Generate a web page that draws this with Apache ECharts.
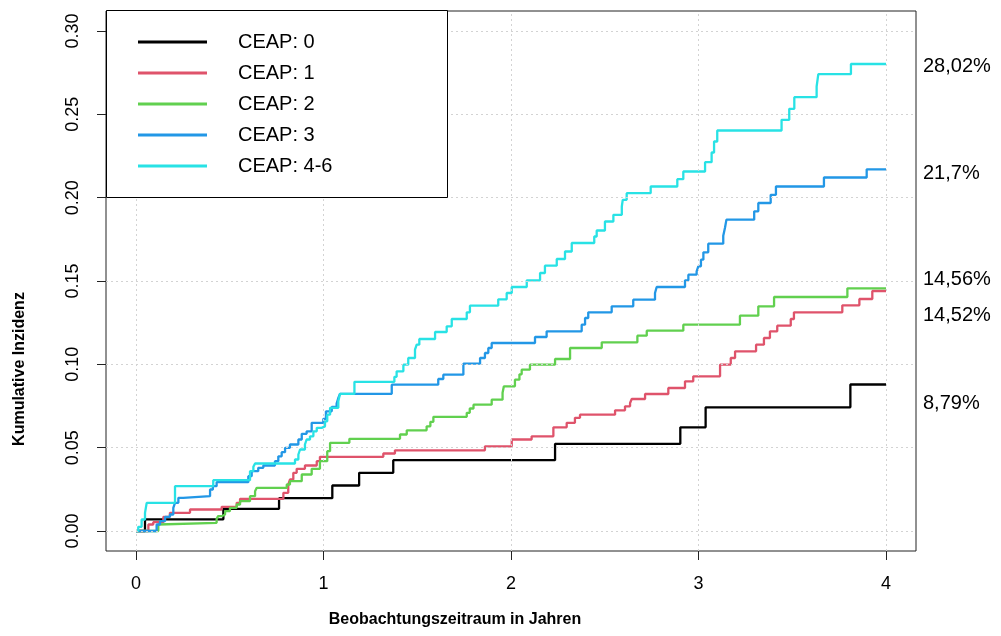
<!DOCTYPE html>
<html>
<head>
<meta charset="utf-8">
<script src="https://cdn.jsdelivr.net/npm/echarts@6/dist/echarts.min.js"></script>
<style>html,body{margin:0;padding:0;background:#fff}#c{width:1001px;height:636px}</style>
</head>
<body>
<div id="c"></div>
<script>
// ---- data (years, cumulative incidence) ----
const xTicks = [0, 1, 2, 3, 4];
const yTicks = [0, 0.05, 0.10, 0.15, 0.20, 0.25, 0.30];
const seriesNames = ['CEAP: 0', 'CEAP: 1', 'CEAP: 2', 'CEAP: 3', 'CEAP: 4-6'];
const seriesColors = ['#000000', '#DF536B', '#61D04F', '#2297E6', '#28E2E5'];
const endLabels = ['8,79%', '14,52%', '14,56%', '21,7%', '28,02%'];

const ceap0 = [[0,0],[0.048,0.0070],[0.466,0.0133],[0.763,0.0197],[1.047,0.0273],[1.19,0.0349],[1.372,0.0425],
  [2.235,0.0523],[2.903,0.0622],[3.038,0.0742],[3.81,0.0879],[4.0,0.0879]];

const ceap1 = [[0,0],[0.066,0.0039],[0.092,0.0053],[0.146,0.0085],[0.181,0.0109],[0.288,0.0129],[0.457,0.0145],
  [0.537,0.0169],[0.555,0.0193],[0.786,0.0229],[0.812,0.0279],[0.821,0.0309],[0.839,0.0349],[0.857,0.0373],
  [0.901,0.0393],[0.964,0.0419],[0.981,0.0445],[1.319,0.0465],[1.381,0.0484],[1.861,0.0508],[2.004,0.0549],
  [2.110,0.0568],[2.226,0.0622],[2.297,0.0649],[2.341,0.0679],[2.368,0.0698],[2.555,0.0724],[2.608,0.0748],
  [2.635,0.0768],[2.644,0.0792],[2.715,0.0822],[2.839,0.0858],[2.928,0.0898],[2.972,0.0928],[3.115,0.0998],
  [3.172,0.1038],[3.195,0.1078],[3.307,0.1118],[3.349,0.1158],[3.381,0.1198],[3.42,0.1232],[3.492,0.1272],
  [3.509,0.1312],[3.767,0.1354],[3.858,0.1392],[3.927,0.1440],[4.0,0.1440]];

const ceap2 = [[0,0],[0.119,0.0039],[0.128,0.0049],[0.43,0.0073],[0.438,0.0089],[0.457,0.0099],[0.475,0.0119],
  [0.501,0.0139],[0.537,0.0159],[0.555,0.0179],[0.608,0.0209],[0.635,0.0239],[0.644,0.0259],[0.804,0.0279],
  [0.821,0.0299],[0.884,0.0339],[0.937,0.0373],[0.981,0.0419],[1.02,0.0479],[1.035,0.0529],[1.138,0.0553],
  [1.408,0.0579],[1.444,0.0604],[1.55,0.0628],[1.57,0.0655],[1.586,0.0685],[1.764,0.0709],[1.78,0.0735],
  [1.8,0.0758],[1.897,0.0788],[1.955,0.0830],[1.962,0.0868],[2.021,0.0908],[2.045,0.0940],[2.057,0.0968],
  [2.101,0.0998],[2.235,0.1032],[2.315,0.1098],[2.484,0.1132],[2.674,0.1172],[2.724,0.1202],[2.919,0.1238],
  [3.221,0.1292],[3.319,0.1348],[3.403,0.1404],[3.794,0.1456],[4.0,0.1456]];

const ceap3 = [[0,0],[0.11,0.0039],[0.128,0.0059],[0.155,0.0085],[0.181,0.0099],[0.199,0.0139],[0.208,0.0169],
  [0.226,0.0199],[0.252,0.0209],[0.395,0.0249],[0.41,0.0269],[0.43,0.0293],[0.599,0.0329],[0.617,0.0359],
  [0.652,0.0379],[0.679,0.0393],[0.741,0.0419],[0.759,0.0448],[0.777,0.0473],[0.795,0.0499],[0.821,0.0519],
  [0.866,0.0549],[0.884,0.0583],[0.91,0.0598],[0.937,0.0649],[0.999,0.0673],[1.013,0.0718],[1.044,0.0744],
  [1.07,0.0764],[1.079,0.0798],[1.088,0.0823],[1.364,0.0878],[1.612,0.0912],[1.639,0.0938],[1.746,0.1004],
  [1.835,0.1038],[1.861,0.1068],[1.879,0.1098],[1.897,0.1128],[2.128,0.1164],[2.19,0.1198],[2.377,0.1238],
  [2.395,0.1278],[2.412,0.1312],[2.537,0.1348],[2.652,0.1388],[2.768,0.1428],[2.777,0.1464],[2.928,0.1504],
  [2.946,0.1538],[2.99,0.1558],[2.999,0.1588],[3.013,0.1628],[3.026,0.1672],[3.052,0.1724],[3.132,0.1772],
  [3.141,0.1818],[3.149,0.1868],[3.297,0.1918],[3.319,0.1968],[3.385,0.2017],[3.413,0.2067],[3.669,0.2121],
  [3.897,0.2170],[4.0,0.2170]];

const ceap46 = [[0,0],[0.012,0.0025],[0.03,0.0069],[0.048,0.0109],[0.057,0.0169],[0.208,0.0269],[0.412,0.0305],
  [0.608,0.0359],[0.626,0.0385],[0.635,0.0405],[0.848,0.0429],[0.866,0.0459],[0.875,0.0489],[0.901,0.0519],
  [0.91,0.0549],[0.928,0.0568],[0.946,0.0598],[0.964,0.0619],[0.99,0.0628],[1.008,0.0658],[1.02,0.0698],
  [1.035,0.0739],[1.079,0.0778],[1.088,0.0823],[1.165,0.0895],[1.378,0.0925],[1.39,0.0958],[1.426,0.0998],
  [1.452,0.1038],[1.488,0.1088],[1.497,0.1118],[1.511,0.1152],[1.595,0.1194],[1.657,0.1228],[1.684,0.1272],
  [1.764,0.1312],[1.781,0.1352],[1.932,0.1390],[1.977,0.1428],[2.004,0.1464],[2.084,0.1504],[2.155,0.1548],
  [2.181,0.1592],[2.244,0.1632],[2.288,0.1677],[2.324,0.1728],[2.444,0.1767],[2.457,0.1803],[2.501,0.1857],
  [2.546,0.1897],[2.591,0.1947],[2.596,0.1987],[2.617,0.2027],[2.745,0.2067],[2.887,0.2111],[2.919,0.2157],
  [3.035,0.2213],[3.07,0.2271],[3.083,0.2337],[3.1,0.2403],[3.443,0.2467],[3.484,0.2533],[3.511,0.2603],
  [3.63,0.2667],[3.639,0.2741],[3.813,0.2802],[4.0,0.2802]];

const allSeries = [ceap0, ceap1, ceap2, ceap3, ceap46];
// layout of the right-hand annotations (pixel y centres)
const endLabelY = [403, 315, 279, 173, 66];

const FONT = '"Liberation Sans", Arial, sans-serif';
const chart = echarts.init(document.getElementById('c'), null, {renderer: 'canvas'});

const lineSeries = allSeries.map((d, i) => ({
  name: seriesNames[i],
  type: 'line',
  step: 'end',
  data: d,
  symbol: 'none',
  z: 3,
  lineStyle: {color: seriesColors[i], width: 2.3},
  itemStyle: {color: seriesColors[i]},
  emphasis: {disabled: true},
  animation: false
}));

const gridSeries = {
  name: 'grid',
  type: 'line',
  data: [],
  z: 1,
  silent: true,
  markLine: {
    silent: true,
    symbol: ['none', 'none'],
    label: {show: false},
    animation: false,
    lineStyle: {color: '#D3D3D3', type: [2, 3], width: 1},
    data: xTicks.map(v => ({xAxis: v})).concat(yTicks.map(v => ({yAxis: v})))
  }
};

const graphics = [
  {type: 'rect', z: 6, shape: {x: 106.5, y: 10.5, width: 341, height: 187},
   style: {fill: '#fff', stroke: '#000', lineWidth: 1}},
  {type: 'text', z: 6, x: 20, y: 369, rotation: Math.PI / 2,
   style: {text: 'Kumulative Inzidenz', font: 'bold 16px ' + FONT, fill: '#000', align: 'center', verticalAlign: 'middle'}},
  {type: 'text', z: 6, x: 455, y: 620,
   style: {text: 'Beobachtungszeitraum in Jahren', font: 'bold 16px ' + FONT, fill: '#000', align: 'center', verticalAlign: 'middle'}}
].concat(endLabels.map((t, i) => ({
  type: 'text', z: 6, x: 923, y: endLabelY[i],
  style: {text: t, font: '20px ' + FONT, fill: '#000', align: 'left', verticalAlign: 'middle'}
})));

chart.setOption({
  animation: false,
  backgroundColor: '#fff',
  grid: {left: 106, right: 85, top: 11, bottom: 85, show: true, borderColor: '#222', borderWidth: 1, backgroundColor: 'transparent'},
  xAxis: {
    type: 'value', min: -0.16, max: 4.16, position: 'bottom',
    axisLine: {show: false, onZero: false},
    axisTick: {show: true, inside: false, customValues: xTicks, length: 9, lineStyle: {color: '#222', width: 1}},
    axisLabel: {customValues: xTicks, fontSize: 18, color: '#000', margin: 24, fontFamily: FONT},
    splitLine: {show: false}
  },
  yAxis: {
    type: 'value', min: -0.012, max: 0.312, position: 'left',
    axisLine: {show: false, onZero: false},
    axisTick: {show: true, inside: false, customValues: yTicks, length: 9, lineStyle: {color: '#222', width: 1}},
    axisLabel: {customValues: yTicks, fontSize: 18, color: '#000', margin: 24, rotate: 90, fontFamily: FONT,
      formatter: v => v.toFixed(2)},
    splitLine: {show: false}
  },
  legend: {
    data: seriesNames,
    orient: 'vertical',
    left: 138, top: 32,
    padding: 0,
    itemWidth: 69, itemHeight: 3, itemGap: 11,
    icon: 'rect',
    z: 10,
    selectedMode: false,
    textStyle: {fontSize: 20, lineHeight: 20, color: '#000', fontFamily: FONT, padding: [0, 0, 0, 26]}
  },
  graphic: graphics,
  series: [gridSeries].concat(lineSeries)
});
</script>
</body>
</html>
